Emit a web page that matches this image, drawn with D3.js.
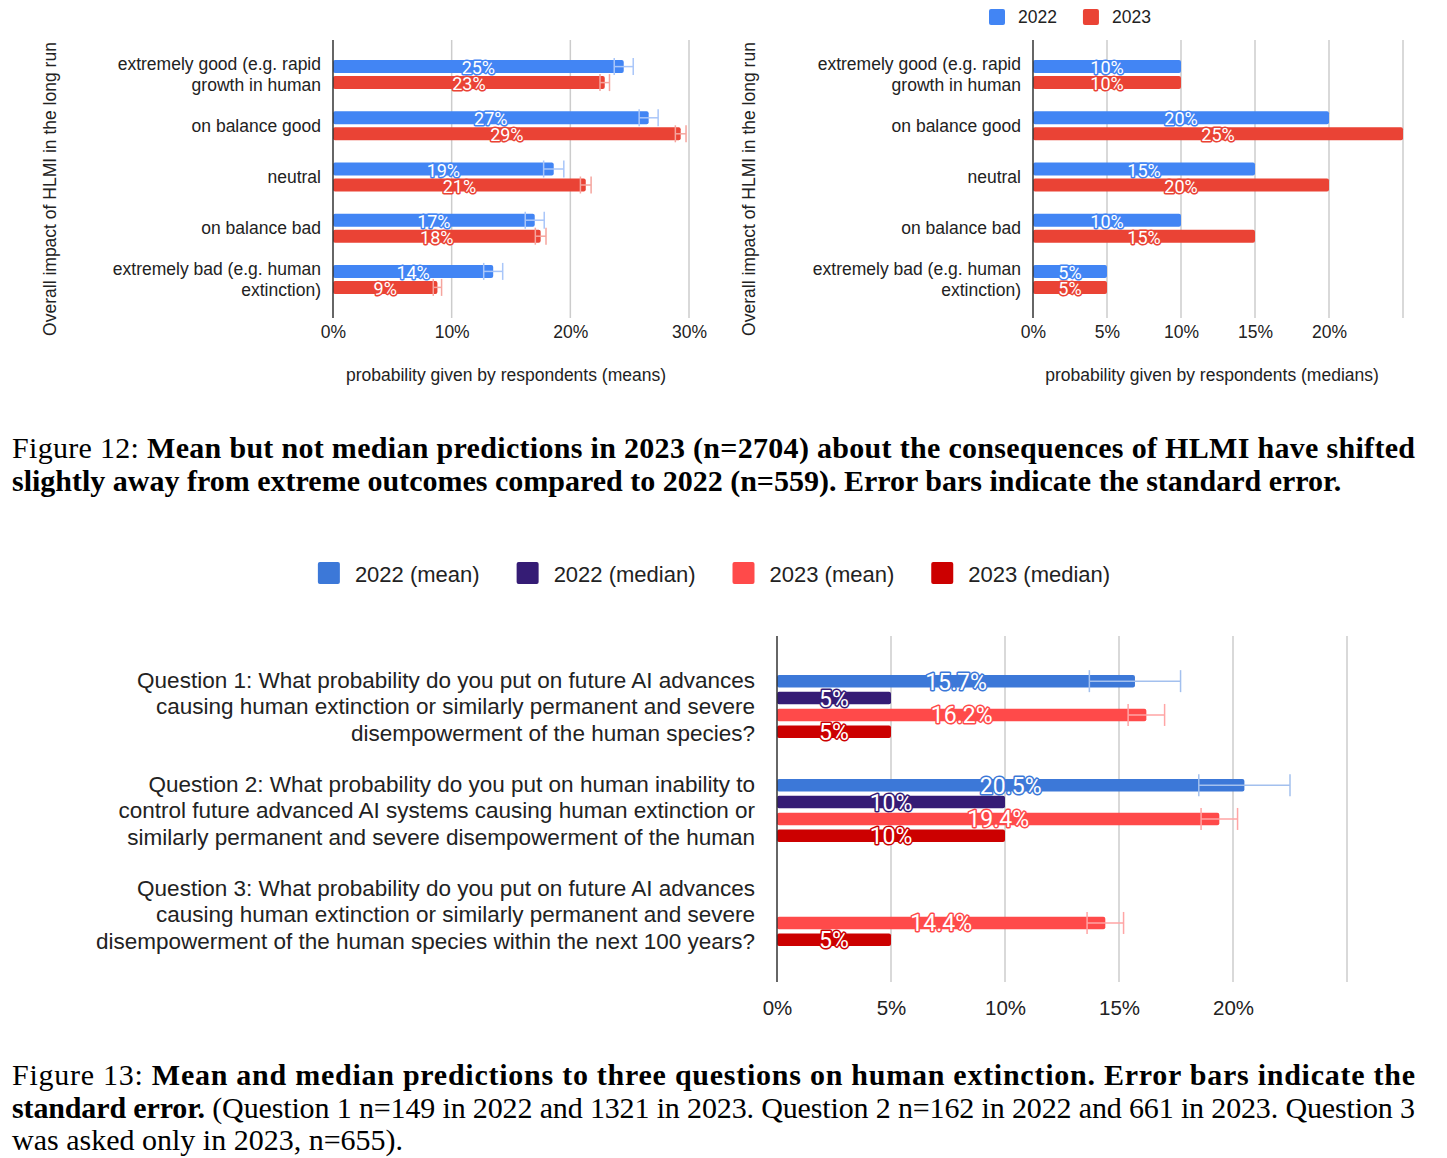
<!DOCTYPE html>
<html>
<head>
<meta charset="utf-8">
<script src="https://cdn.jsdelivr.net/npm/d3@7"></script>
<style>
  body { margin: 0; background: #fff; }
  text { font-family: "Liberation Sans", Arial, sans-serif; fill: #222; }
  text.lbl { font-family: Roboto, "Liberation Sans", sans-serif; fill: #fff; paint-order: stroke; stroke-linejoin: round; }
  text.cap, text.cap tspan { font-family: "Liberation Serif", "Times New Roman", serif; fill: #000; }
</style>
</head>
<body>
<svg id="fig" width="1447" height="1158"></svg>
<script>
// ---- data: figure 12 ----
const impactLabels = [
    "extremely good (e.g. rapid\ngrowth in human",
    "on balance good",
    "neutral",
    "on balance bad",
    "extremely bad (e.g. human\nextinction)"
];
const years = ["2022", "2023"];
const mean2022 = [24.5, 26.6, 18.6, 17.0, 13.5];
const se2022 = [0.8, 0.8, 0.85, 0.8, 0.8];
const mean2023 = [22.9, 29.3, 21.3, 17.5, 8.8];
const se2023 = [0.4, 0.45, 0.45, 0.45, 0.35];
const median2022 = [10, 20, 15, 10, 5];
const median2023 = [10, 25, 20, 15, 5];
const meanTicks = [0, 10, 20, 30];
const medianTicks = [0, 5, 10, 15, 20];

// ---- data: figure 13 ----
const questions = [
    "Question 1: What probability do you put on future AI advances\ncausing human extinction or similarly permanent and severe\ndisempowerment of the human species?",
    "Question 2: What probability do you put on human inability to\ncontrol future advanced AI systems causing human extinction or\nsimilarly permanent and severe disempowerment of the human",
    "Question 3: What probability do you put on future AI advances\ncausing human extinction or similarly permanent and severe\ndisempowerment of the human species within the next 100 years?"
];
const extSeries = ["2022 (mean)", "2022 (median)", "2023 (mean)", "2023 (median)"];
const ext2022Mean = [15.7, 20.5, null];
const ext2022MeanSE = [2.0, 2.0, null];
const ext2022Median = [5, 10, null];
const ext2023Mean = [16.2, 19.4, 14.4];
const ext2023MeanSE = [0.8, 0.8, 0.8];
const ext2023Median = [5, 10, 5];
const extTicks = [0, 5, 10, 15, 20];

const svg = d3.select("#fig");

// grouped horizontal bars, shared by both figures
function drawBars(g, cfg) {
    const x = d3.scaleLinear([0, cfg.max], [cfg.left, cfg.right]);
    const y = d3.scaleBand(cfg.cats, cfg.band);
    const n = cfg.series.length;

    // gridlines
    g.selectAll("line.grid")
        .data(d3.range(cfg.gridStep, cfg.max + 0.001, cfg.gridStep))
        .join("line")
        .attr("x1", d => x(d)).attr("x2", d => x(d))
        .attr("y1", cfg.top).attr("y2", cfg.bottom)
        .attr("stroke", "#cccccc").attr("stroke-width", 1.5);

    // tick labels
    const axis = g.append("g")
        .attr("transform", `translate(0,${cfg.bottom})`)
        .call(d3.axisBottom(x).tickValues(cfg.ticks).tickFormat(d => d + "%")
            .tickSize(0).tickPadding(cfg.tickPad));
    axis.select(".domain").remove();
    axis.selectAll("text")
        .attr("font-family", "Liberation Sans, Arial, sans-serif")
        .attr("font-size", cfg.tickSize).attr("fill", "#222");

    // category labels
    cfg.cats.forEach(c => {
        const lines = c.split("\n");
        const cy = y(c) + y.bandwidth() / 2;
        const t = g.append("text")
            .attr("text-anchor", "end")
            .attr("font-size", cfg.catSize);
        lines.forEach((l, i) => {
            t.append("tspan")
                .attr("x", cfg.catX)
                .attr("y", cy + (i - (lines.length - 1) / 2) * cfg.catLine)
                .attr("dominant-baseline", "central")
                .text(l);
        });
    });

    cfg.series.forEach((s, si) => {
        const off = (si - (n - 1) / 2) * cfg.stride;
        const rows = cfg.cats.map((c, i) => ({
            c, v: s.values[i], se: s.se ? s.se[i] : null
        })).filter(d => d.v != null);
        const cy = d => y(d.c) + y.bandwidth() / 2 + off;

        g.selectAll(null).data(rows).join("rect")
            .attr("x", x(0))
            .attr("y", d => cy(d) - cfg.barH / 2)
            .attr("width", d => x(d.v) - x(0))
            .attr("height", cfg.barH)
            .attr("rx", 2)
            .attr("fill", s.color);

        const err = rows.filter(d => d.se != null);
        g.selectAll(null).data(err).join("line")
            .attr("x1", d => x(d.v - d.se)).attr("x2", d => x(d.v + d.se))
            .attr("y1", cy).attr("y2", cy)
            .attr("stroke", s.err).attr("stroke-width", 1.5);
        [-1, 1].forEach(k => {
            g.selectAll(null).data(err).join("line")
                .attr("x1", d => x(d.v + k * d.se)).attr("x2", d => x(d.v + k * d.se))
                .attr("y1", d => cy(d) - cfg.capH / 2).attr("y2", d => cy(d) + cfg.capH / 2)
                .attr("stroke", s.err).attr("stroke-width", 1.5);
        });

        g.selectAll(null).data(rows).join("text")
            .attr("class", "lbl")
            .attr("x", d => (x(0) + x(d.v)) / 2)
            .attr("y", d => cy(d) + 1)
            .attr("text-anchor", "middle")
            .attr("dominant-baseline", "central")
            .attr("font-size", cfg.lblSize)
            .attr("stroke", s.color).attr("stroke-width", 3)
            .text(d => s.fmt(d.v));
    });

    // axis line
    g.append("line")
        .attr("x1", x(0)).attr("x2", x(0))
        .attr("y1", cfg.top).attr("y2", cfg.bottom)
        .attr("stroke", "#333").attr("stroke-width", 1.5);
}

const blue = "#4285f4", red = "#ea4335";
const round = v => Math.round(v) + "%";

function impactChart(cfg) {
    const g = svg.append("g");
    drawBars(g, Object.assign({
        cats: impactLabels, band: [49, 305], top: 40, bottom: 318,
        stride: 16, barH: 13, capH: 17, tickPad: 8, tickSize: 17.5,
        catSize: 17.5, catLine: 21, lblSize: 18
    }, cfg));
    g.append("text")
        .attr("transform", `translate(${cfg.yTitleX},189) rotate(-90)`)
        .attr("text-anchor", "middle").attr("dominant-baseline", "central")
        .attr("font-size", 17.5)
        .text("Overall impact of HLMI in the long run");
    g.append("text")
        .attr("x", cfg.titleX).attr("y", 381)
        .attr("text-anchor", "middle").attr("font-size", 17.5)
        .text(cfg.title);
}

impactChart({
    left: 333, right: 689, max: 30, gridStep: 10, ticks: meanTicks,
    catX: 321, yTitleX: 50, titleX: 506,
    title: "probability given by respondents (means)",
    series: [
        { values: mean2022, se: se2022, color: blue, err: "#a9c6f9", fmt: round },
        { values: mean2023, se: se2023, color: red, err: "#f5a59e", fmt: round }
    ]
});
impactChart({
    left: 1033, right: 1403, max: 25, gridStep: 5, ticks: medianTicks,
    catX: 1021, yTitleX: 749, titleX: 1212,
    title: "probability given by respondents (medians)",
    series: [
        { values: median2022, color: blue, fmt: round },
        { values: median2023, color: red, fmt: round }
    ]
});

// top-right legend
{
    const lg = svg.append("g");
    let lx = 989;
    years.forEach((yr, i) => {
        lg.append("rect").attr("x", lx).attr("y", 9).attr("width", 16).attr("height", 16)
            .attr("rx", 2).attr("fill", i ? red : blue);
        const t = lg.append("text").attr("x", lx + 29).attr("y", 17)
            .attr("dominant-baseline", "central").attr("font-size", 17.5).text(yr);
        lx += 29 + t.node().getComputedTextLength() + 26;
    });
}

// ---- figure 13 chart ----
const extColors = ["#3c78d8", "#351c75", "#ff4a4a", "#cc0000"];
const extErr = ["#a3c0ee", null, "#ffa5a5", null];
const oneDec = v => v + "%";
{
    const g = svg.append("g");
    const vals = [ext2022Mean, ext2022Median, ext2023Mean, ext2023Median];
    const ses = [ext2022MeanSE, null, ext2023MeanSE, null];
    drawBars(g, {
        cats: questions, band: [654.5, 966.5], top: 636, bottom: 982,
        left: 777, right: 1347, max: 25, gridStep: 5, ticks: extTicks,
        stride: 16.9, barH: 12.5, capH: 22, tickPad: 18, tickSize: 20.5,
        catX: 755, catSize: 22.5, catLine: 26.5, lblSize: 23,
        series: vals.map((v, i) => ({
            values: v, se: ses[i], color: extColors[i], err: extErr[i], fmt: oneDec
        }))
    });

    // legend
    const lg = svg.append("g");
    let lx = 0;
    extSeries.forEach((s, i) => {
        lg.append("rect").attr("x", lx).attr("y", 562).attr("width", 22).attr("height", 22)
            .attr("rx", 2).attr("fill", extColors[i]);
        const t = lg.append("text").attr("x", lx + 37).attr("y", 574)
            .attr("dominant-baseline", "central").attr("font-size", 22).text(s);
        lx += 37 + t.node().getComputedTextLength() + 37;
    });
    lx -= 37;
    lg.attr("transform", `translate(${714 - lx / 2},0)`);
}

// ---- captions ----
function caption(y, parts, justify) {
    const t = svg.append("text").attr("class", "cap")
        .attr("x", 12).attr("y", y).attr("font-size", 30);
    parts.forEach(p => t.append("tspan").attr("font-weight", p[1] ? "bold" : "normal").text(p[0]));
    if (justify) t.attr("textLength", 1403).attr("lengthAdjust", "spacing");
}
caption(458, [["Figure 12: ", 0], ["Mean but not median predictions in 2023 (n=2704) about the consequences of HLMI have shifted", 1]], true);
caption(491, [["slightly away from extreme outcomes compared to 2022 (n=559). Error bars indicate the standard error.", 1]], false);
caption(1085, [["Figure 13: ", 0], ["Mean and median predictions to three questions on human extinction.  Error bars indicate the", 1]], true);
caption(1118, [["standard error.", 1], [" (Question 1 n=149 in 2022 and 1321 in 2023. Question 2 n=162 in 2022 and 661 in 2023. Question 3", 0]], true);
caption(1150, [["was asked only in 2023, n=655).", 0]], false);
</script>
</body>
</html>
